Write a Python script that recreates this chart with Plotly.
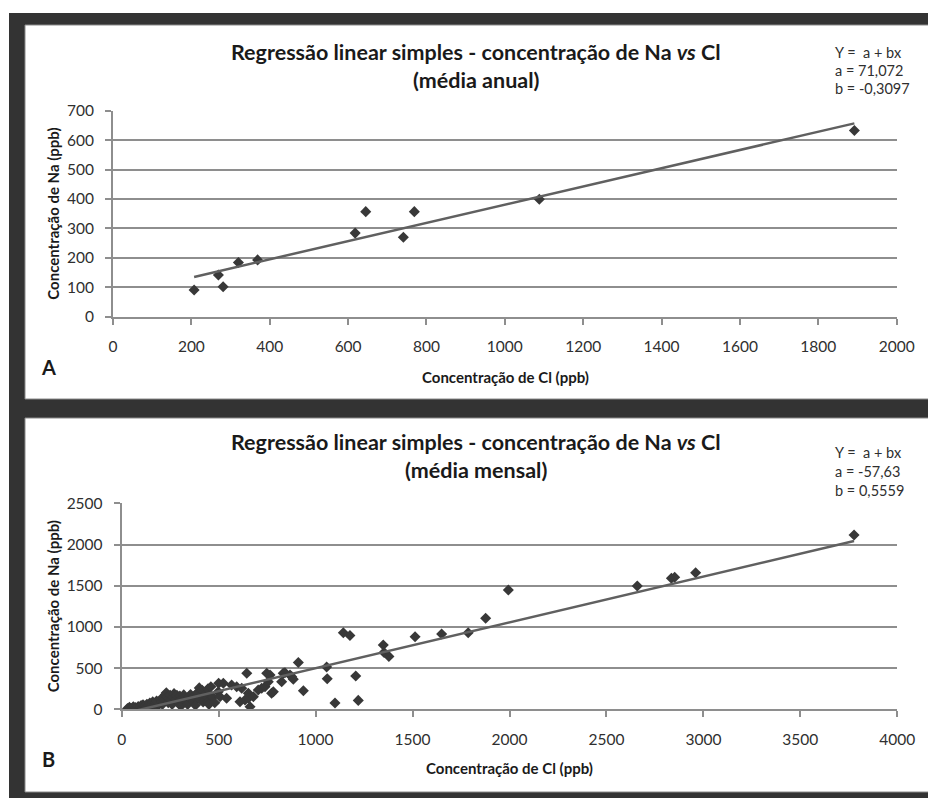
import plotly.graph_objects as go

W, H = 928, 798

# ---------------- data ----------------
# Panel A: annual means
cl_anual = [207, 269, 281, 320, 369, 618, 645, 741, 769, 1088, 1892]
na_anual = [91, 142, 102, 184, 193, 284, 357, 270, 357, 399, 633]
a_anual, b_anual = 71.072, 0.3097
eq_anual = ["Y =\u00a0\u00a0a + bx", "a = 71,072", "b = -0,3097"]

# Panel B: monthly means
cl_mensal = [30, 40, 45, 55, 60, 65, 70, 80, 85, 95, 100, 105, 110, 120, 125, 130, 140, 145,
             150, 155, 160, 170, 175, 180, 185, 190, 200, 205, 210, 215, 220, 225, 230, 235,
             240, 245, 250, 255, 260, 265, 270, 280, 285, 290, 300, 305, 310, 320, 330, 340,
             345, 355, 360, 370, 375, 380, 390, 400, 405, 415, 420, 430, 438, 445, 447, 450,
             455, 460, 470, 480, 498, 500, 507, 524, 541, 567, 593, 610, 619, 636, 645, 653,
             653, 662, 679, 704, 722, 739, 748, 756, 765, 773, 782, 825, 833, 842, 868, 877,
             885, 911, 937, 1057, 1060, 1100, 1143, 1177, 1207, 1220, 1349, 1353, 1378, 1513,
             1650, 1787, 1877, 1994, 2659, 2835, 2852, 2960, 3777]
na_mensal = [10, 25, 5, 15, 30, 0, 20, 10, 35, 25, 45, 15, 55, 40, 20, 60, 50, 75,
             30, 65, 90, 55, 80, 100, 40, 70, 120, 90, 60, 140, 110, 180, 200, 150,
             80, 130, 170, 110, 60, 150, 190, 120, 170, 90, 160, 40, 130, 175, 100, 60,
             150, 180, 120, 90, 160, 50, 200, 260, 120, 230, 90, 180, 153, 250, 92, 60,
             174, 274, 150, 80, 214, 316, 153, 316, 133, 295, 274, 92, 255, 113, 437, 194,
             134, 32, 153, 234, 255, 274, 437, 335, 416, 194, 214, 335, 437, 444, 416, 396,
             364, 568, 224, 513, 370, 76, 930, 896, 404, 108, 780, 690, 642, 881,
             914, 930, 1104, 1448, 1496, 1590, 1602, 1658, 2115]
a_mensal, b_mensal = -57.63, 0.5559
eq_mensal = ["Y =\u00a0\u00a0a + bx", "a = -57,63", "b = 0,5559"]

title_l1 = "Regressão linear simples - concentração de Na <i>vs</i> Cl"
title_A2 = "(média anual)"
title_B2 = "(média mensal)"
xlabel = "Concentração de Cl (ppb)"
ylabel = "Concentração de Na (ppb)"

# ---------------- helpers (window pixel -> paper fraction) ----------------
def px(x):
    return x / W

def py(y):
    return 1 - y / H

FONT = "Lato, 'Open Sans', sans-serif"
GRID = "#8e8e8e"
TXT = "#2f2f2f"
MARK = "#383838"
TREND = "#606060"

fig = go.Figure()

fig.add_trace(go.Scatter(x=cl_anual, y=na_anual, mode="markers", xaxis="x", yaxis="y",
                         marker=dict(symbol="diamond", size=8.5, color=MARK), showlegend=False))
xa = [min(cl_anual), max(cl_anual)]
fig.add_trace(go.Scatter(x=xa, y=[a_anual + b_anual * v for v in xa], mode="lines",
                         xaxis="x", yaxis="y", line=dict(color=TREND, width=2.5), showlegend=False))

fig.add_trace(go.Scatter(x=cl_mensal, y=na_mensal, mode="markers", xaxis="x2", yaxis="y2",
                         marker=dict(symbol="diamond", size=8.5, color=MARK), showlegend=False))
xb = [min(cl_mensal), max(cl_mensal)]
fig.add_trace(go.Scatter(x=xb, y=[a_mensal + b_mensal * v for v in xb], mode="lines",
                         xaxis="x2", yaxis="y2", line=dict(color=TREND, width=2.5), showlegend=False))

xcommon = dict(showgrid=False, zeroline=False, showline=True, linecolor=GRID, linewidth=2,
               ticks="outside", ticklen=6, tickwidth=2, tickcolor=GRID, automargin=False,
               tickfont=dict(family=FONT, size=15.5, color=TXT), ticklabelstandoff=9)
ycommon = dict(showgrid=True, gridcolor=GRID, gridwidth=2, zeroline=False, showline=True,
               linecolor=GRID, linewidth=2, ticks="outside", ticklen=6, tickwidth=2,
               tickcolor=GRID, automargin=False, tickfont=dict(family=FONT, size=15.5, color=TXT),
               ticklabelstandoff=8)

fig.update_layout(
    width=W, height=H, margin=dict(l=0, r=0, t=0, b=0, pad=0, autoexpand=False),
    paper_bgcolor="white", plot_bgcolor="rgba(0,0,0,0)",
    xaxis=dict(domain=[px(113), px(896.7)], range=[0, 2000], dtick=200, anchor="y", **xcommon),
    yaxis=dict(domain=[py(316.7), py(110.7)], range=[0, 700], dtick=100, anchor="x", **ycommon),
    xaxis2=dict(domain=[px(121.7), px(897.3)], range=[0, 4000], dtick=500, anchor="y2", **xcommon),
    yaxis2=dict(domain=[py(709.3), py(503.3)], range=[0, 2500], dtick=500, anchor="x2", **ycommon),
)

shapes = [
    dict(type="rect", xref="paper", yref="paper", x0=px(9), x1=1.01, y0=-0.01, y1=py(13),
         fillcolor="#333333", line=dict(width=0), layer="below"),
    dict(type="rect", xref="paper", yref="paper", x0=px(25), x1=1.01, y0=py(399), y1=py(25),
         fillcolor="white", line=dict(width=1, color="#8a8a8a"), layer="below"),
    dict(type="rect", xref="paper", yref="paper", x0=px(25), x1=1.01, y0=py(792), y1=py(418),
         fillcolor="white", line=dict(width=1, color="#8a8a8a"), layer="below"),
    # text box of the equation (covers the top gridline)
    dict(type="rect", xref="paper", yref="paper", x0=px(825), x1=1.01, y0=py(506), y1=py(440),
         fillcolor="white", line=dict(width=0), layer="above"),
]
fig.update_layout(shapes=shapes)

ann = []

def text(x, y, s, size, bold=False, xanchor="center", angle=0):
    ann.append(dict(xref="paper", yref="paper", x=px(x), y=py(y), text=("<b>%s</b>" % s) if bold else s,
                    showarrow=False, xanchor=xanchor, yanchor="middle", textangle=angle,
                    font=dict(family=FONT, size=size, color="#1a1a1a" if bold else TXT)))

# Panel A
text(476, 52, title_l1, 21.5, bold=True)
text(476, 80, title_A2, 21.5, bold=True)
for i, s in enumerate(eq_anual):
    text(833, 52 + i * 18.5, s, 14.5, xanchor="left")
text(505, 377, xlabel, 15, bold=True)
text(53, 213.7, ylabel, 15, bold=True, angle=-90)
text(48, 367, "A", 20, bold=True)

# Panel B
text(476, 442, title_l1, 21.5, bold=True)
text(476, 470, title_B2, 21.5, bold=True)
for i, s in enumerate(eq_mensal):
    text(833, 452 + i * 19, s, 14.5, xanchor="left")
text(509.5, 768, xlabel, 15, bold=True)
text(53, 606.3, ylabel, 15, bold=True, angle=-90)
text(48, 759, "B", 20, bold=True)

fig.update_layout(annotations=ann)

fig.write_html("out.html")
